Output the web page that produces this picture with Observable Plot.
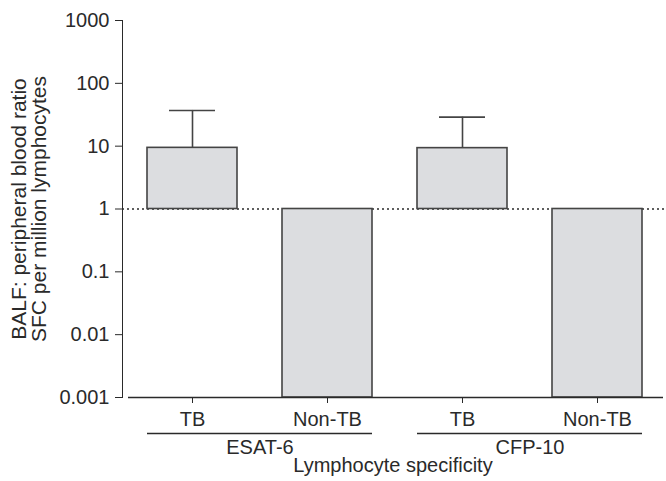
<!DOCTYPE html>
<html>
<head>
<meta charset="utf-8">
<script src="https://cdn.jsdelivr.net/npm/d3@7"></script>
<script src="https://cdn.jsdelivr.net/npm/@observablehq/plot@0.6"></script>
<style>
  html, body { margin: 0; padding: 0; background: #fff; }
  svg { display: block; }
</style>
</head>
<body>
<div id="chart"></div>
<script>
// ---- data ----
const antigens = ["ESAT-6", "ESAT-6", "CFP-10", "CFP-10"];
const groups = ["TB", "Non-TB", "TB", "Non-TB"];
const means = [9.4, 0.001, 9.3, 0.001];
const uppers = [37, null, 29, null];
const yTicks = [0.001, 0.01, 0.1, 1, 10, 100, 1000];
const antigenNames = ["ESAT-6", "CFP-10"];
const yLabel = "BALF: peripheral blood ratio\nSFC per million lymphocytes";
const xLabel = "Lymphocyte specificity";

const rows = antigens.map((a, i) => ({key: a + " " + groups[i], antigen: a, group: groups[i], mean: means[i], upper: uppers[i]}));
const keys = rows.map(d => d.key);
const errRows = rows.filter(d => d.upper != null);
const groupRows = antigenNames.map(a => {
  const r = rows.filter(d => d.antigen === a);
  return {antigen: a, first: r[0].key, last: r[r.length - 1].key};
});

const W = 666, H = 481, ML = 122, MR = 3, MT = 20, MB = 84;
const PI = 0.33, PO = 0.155;
const step = Math.floor((W - ML - MR) / (keys.length - PI + 2 * PO));
const font = "'Liberation Sans', Arial, Helvetica, sans-serif";
const ink = "#2a2a2a";

const chart = Plot.plot({
  width: W, height: H,
  marginLeft: ML, marginRight: MR, marginTop: MT, marginBottom: MB,
  style: {fontFamily: font, fontSize: "20px", color: ink, background: "#fff"},
  x: {domain: keys, paddingInner: PI, paddingOuter: PO, align: 0.55,
      tickFormat: k => rows.find(d => d.key === k).group, tickSize: 6, tickPadding: 8, label: null},
  y: {type: "log", domain: [0.001, 1000], ticks: yTicks, tickFormat: d => d3.format("~g")(d),
      tickSize: 7, tickPadding: 6, line: true, label: null},
  marks: [
    Plot.ruleY([1], {stroke: ink, strokeWidth: 1.3, strokeDasharray: "2,3", insetRight: -3}),
    Plot.ruleX(errRows, {x: "key", y1: "mean", y2: "upper", stroke: "#444", strokeWidth: 1.6}),
    Plot.tickY(errRows, {x: "key", y: "upper", stroke: "#444", strokeWidth: 1.6, insetLeft: 22, insetRight: 22}),
    Plot.barY(rows, {x: "key", y1: () => 1, y2: "mean", fill: "#dcdde0", stroke: "#444", strokeWidth: 1.6}),
    Plot.ruleY([0.001], {stroke: ink, strokeWidth: 1.6, insetLeft: 6, insetRight: 0}),
    Plot.ruleY(groupRows, {x1: "first", x2: "last", y: () => 0.001, dy: 36, stroke: ink, strokeWidth: 1.3}),
    Plot.text(groupRows, {x: "first", y: () => 0.001, text: "antigen", dx: step / 2, dy: 50, fontSize: 20, fill: ink}),
    Plot.text([xLabel], {frameAnchor: "bottom", text: d => d, dy: 74, fontSize: 20, fill: ink}),
    Plot.text([yLabel], {frameAnchor: "left", text: d => d, textAnchor: "middle", rotate: -90, dx: -93, fontSize: 21, fill: ink, lineHeight: 0.98})
  ]
});
document.getElementById("chart").appendChild(chart);
</script>
</body>
</html>
